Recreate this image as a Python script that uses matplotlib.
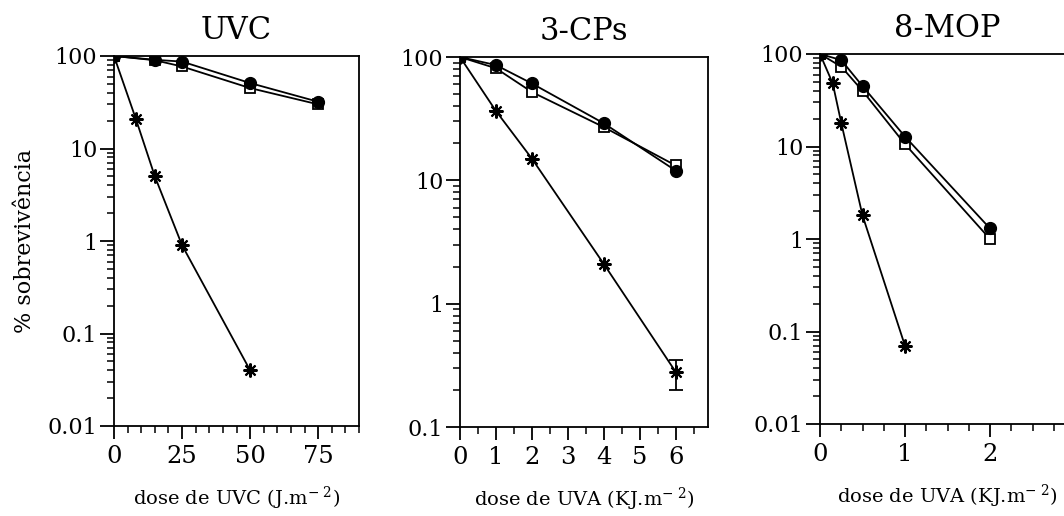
import numpy as np
import matplotlib
matplotlib.use('Agg')
import matplotlib.pyplot as plt
from matplotlib.ticker import LogLocator, NullFormatter, MultipleLocator, FixedLocator

plt.rcParams['font.family'] = 'DejaVu Serif'
plt.rcParams['mathtext.fontset'] = 'dejavuserif'

# UVC panel
uvc_dose = [0, 15, 25, 50, 75]
uvc_circle = [100, 91, 87, 51, 32]
uvc_square = [100, 90, 77, 45, 30]
uvc_star_dose = [0, 8, 15, 25, 50]
uvc_star = [100, 21, 5.0, 0.9, 0.04]

# 3-CPs panel
cps_dose = [0, 1, 2, 4, 6]
cps_circle = [100, 86, 61, 29, 12]
cps_square = [100, 81, 52, 27, 13.2]
cps_star = [100, 36.5, 15, 2.1, 0.28]
cps_star_err_lo = [0, 0, 0, 0, 0.08]
cps_star_err_hi = [0, 0, 0, 0, 0.07]

# 8-MOP panel
mop_dose = [0, 0.25, 0.5, 1, 2]
mop_circle = [100, 86, 45, 12.8, 1.3]
mop_square = [100, 73, 40, 10.6, 1.0]
mop_star_dose = [0, 0.15, 0.25, 0.5, 1]
mop_star = [100, 48, 18, 1.8, 0.07]

W, H = 1064, 516
fig = plt.figure(figsize=(W / 100, H / 100), dpi=100)


def px_axes(left, top, right, bottom):
    return fig.add_axes([left / W, 1 - bottom / H, (right - left) / W, (bottom - top) / H])


ax1 = px_axes(114, 56, 359, 426)
ax2 = px_axes(460, 57, 708, 427)
ax3 = px_axes(820, 54, 1075, 424)

line_kw = dict(color='black', lw=1.3)
star_marker = (8, 2, 0)


def draw(ax, dose, circ, sq, sdose, star, yerr=None):
    ax.plot(dose, sq, marker='s', ms=7.5, mfc='white', mec='black', mew=1.3, **line_kw)
    ax.plot(dose, circ, marker='o', ms=8.5, mfc='black', mec='black', **line_kw)
    ax.plot(sdose, star, marker=star_marker, ms=10, mew=1.5, mec='black', **line_kw)
    if yerr is not None:
        ax.errorbar(sdose, star, yerr=yerr, fmt='none', ecolor='black', elinewidth=1.3, capsize=5, capthick=1.3)
    ax.set_yscale('log')
    for s in ax.spines.values():
        s.set_linewidth(1.3)
    ax.yaxis.set_minor_locator(LogLocator(base=10, subs=np.arange(2, 10)))
    ax.yaxis.set_minor_formatter(NullFormatter())
    ax.tick_params(axis='y', which='major', direction='out', length=10, width=1.3, labelsize=16, pad=2)
    ax.tick_params(axis='y', which='minor', direction='out', length=5, width=1.1)
    ax.tick_params(axis='x', which='major', direction='out', length=9, width=1.3, labelsize=17.5, pad=5)
    ax.tick_params(axis='x', which='minor', direction='out', length=5, width=1.1)


draw(ax1, uvc_dose, uvc_circle, uvc_square, uvc_star_dose, uvc_star)
ax1.set_xlim(0, 90)
ax1.set_ylim(0.01, 100)
ax1.set_xticks([0, 25, 50, 75])
ax1.xaxis.set_minor_locator(MultipleLocator(5))
ax1.yaxis.set_major_locator(FixedLocator([0.01, 0.1, 1, 10, 100]))
ax1.set_yticklabels(['0.01', '0.1', '1', '10', '100'])
ax1.set_title('UVC', fontsize=22, pad=12)
ax1.set_ylabel('% sobrevivência', fontsize=16, labelpad=8)
ax1.set_xlabel(r'dose de UVC (J.m$^{-\ 2}$)', fontsize=14, labelpad=12)

draw(ax2, cps_dose, cps_circle, cps_square, cps_dose, cps_star,
     yerr=[cps_star_err_lo, cps_star_err_hi])
ax2.set_xlim(0, 6.9)
ax2.set_ylim(0.1, 100)
ax2.set_xticks([0, 1, 2, 3, 4, 5, 6])
ax2.xaxis.set_minor_locator(MultipleLocator(0.5))
ax2.yaxis.set_major_locator(FixedLocator([0.1, 1, 10, 100]))
ax2.set_yticklabels(['0.1', '1', '10', '100'])
ax2.set_title('3-CPs', fontsize=22, pad=12)
ax2.set_xlabel(r'dose de UVA (KJ.m$^{-\ 2}$)', fontsize=14, labelpad=12)

draw(ax3, mop_dose, mop_circle, mop_square, mop_star_dose, mop_star)
ax3.set_xlim(0, 3)
ax3.set_ylim(0.01, 100)
ax3.set_xticks([0, 1, 2])
ax3.xaxis.set_minor_locator(MultipleLocator(0.25))
ax3.yaxis.set_major_locator(FixedLocator([0.01, 0.1, 1, 10, 100]))
ax3.set_yticklabels(['0.01', '0.1', '1', '10', '100'])
ax3.set_title('8-MOP', fontsize=22, pad=12)
ax3.set_xlabel(r'dose de UVA (KJ.m$^{-\ 2}$)', fontsize=14, labelpad=12)

fig.savefig('out.png', dpi=100)
